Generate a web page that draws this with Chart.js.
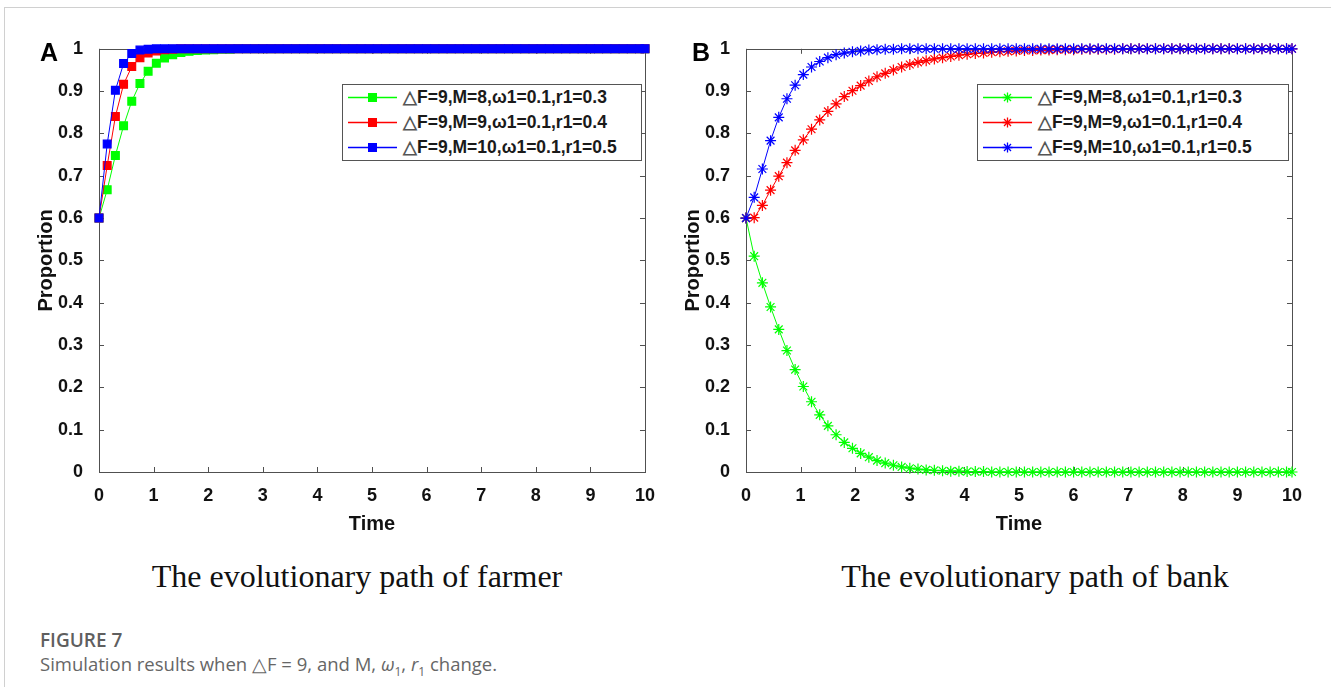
<!DOCTYPE html>
<html>
<head>
<meta charset="utf-8">
<script src="https://cdn.jsdelivr.net/npm/chart.js@4/dist/chart.umd.min.js"></script>
<style>
  body { margin:0; background:#fff; width:1331px; height:687px; position:relative; overflow:hidden; font-family:"Liberation Sans", Arial, sans-serif; }
  .frame { position:absolute; left:4px; top:7px; right:0; bottom:0; border-left:1px solid #d0d0d0; border-top:1px solid #d0d0d0; }
  .panel { position:absolute; top:30px; width:630px; height:510px; }
  .letter { position:absolute; font-weight:bold; font-size:25px; color:#000; }
  .legend { position:absolute; background:#fff; border:1px solid #555; padding:0; }
  .legend div { height:25px; display:flex; align-items:center; font-weight:bold; font-size:17.5px; color:#1a1a1a; white-space:nowrap; }
  .legend svg { margin:0 6px 0 5px; }
  .tri { color:#555; }
  .caption { position:absolute; font-family:"Liberation Serif", "Times New Roman", serif; font-size:32px; color:#111; text-align:center; width:600px; }
  .fig { position:absolute; left:40px; top:627px; font-family:"Open Sans", sans-serif; font-weight:600; font-size:19px; color:#5f5f5f; }
  .sub { position:absolute; left:40px; top:651px; font-family:"Open Sans", sans-serif; font-size:18.5px; color:#666; }
</style>
</head>
<body>
<div class="frame"></div>

<div class="panel" style="left:30px"><canvas id="farmer"></canvas></div>
<div class="panel" style="left:677px"><canvas id="bank"></canvas></div>

<div class="letter" style="left:40px; top:38px">A</div>
<div class="letter" style="left:692px; top:38px">B</div>

<div class="legend" id="legA" style="left:342px; top:84px; width:298px"></div>
<div class="legend" id="legB" style="left:977px; top:84px; width:310px"></div>

<div class="caption" style="left:57px; top:558px">The evolutionary path of farmer</div>
<div class="caption" style="left:735px; top:558px">The evolutionary path of bank</div>

<div class="fig">FIGURE 7</div>
<div class="sub">Simulation results when △F = 9, and M, <i>ω</i><sub style="font-size:12px">1</sub>, <i>r</i><sub style="font-size:12px">1</sub> change.</div>

<script>
// time grid of the simulation (step 0.15)
var timeSteps = [0,0.15,0.3,0.45,0.6,0.75,0.9,1.05,1.2,1.35,1.5,1.65,1.8,1.95,2.1,2.25,2.4,2.55,2.7,2.85,
  3,3.15,3.3,3.45,3.6,3.75,3.9,4.05,4.2,4.35,4.5,4.65,4.8,4.95,5.1,5.25,5.4,5.55,5.7,5.85,
  6,6.15,6.3,6.45,6.6,6.75,6.9,7.05,7.2,7.35,7.5,7.65,7.8,7.95,8.1,8.25,8.4,8.55,8.7,8.85,
  9,9.15,9.3,9.45,9.6,9.75,9.9,10];

var seriesLabels = ["F=9,M=8,ω1=0.1,r1=0.3", "F=9,M=9,ω1=0.1,r1=0.4", "F=9,M=10,ω1=0.1,r1=0.5"];
var seriesColors = ['#00ff00', '#ff0000', '#0000ff'];

// panel A - farmer
var farmerM8 = [0.6,0.667,0.748,0.818,0.876,0.918,0.947,0.966,0.978,0.986,0.991,0.994,0.996,0.997,0.998,0.999,0.999,
  1,1,1,1,1,1,1,1,1,1,1,1,1,1,1,1,1,1,1,1,1,1,1,1,1,1,1,1,1,1,1,1,1,1,1,1,1,1,1,1,1,1,1,1,1,1,1,1,1,1,1,1];
var farmerM9 = [0.6,0.724,0.84,0.916,0.958,0.979,0.99,0.995,0.998,0.999,
  1,1,1,1,1,1,1,1,1,1,1,1,1,1,1,1,1,1,1,1,1,1,1,1,1,1,1,1,1,1,1,1,1,1,1,1,1,1,1,1,1,1,1,1,1,1,1,1,1,1,1,1,1,1,1,1,1,1];
var farmerM10 = [0.6,0.775,0.902,0.965,0.989,0.997,0.999,
  1,1,1,1,1,1,1,1,1,1,1,1,1,1,1,1,1,1,1,1,1,1,1,1,1,1,1,1,1,1,1,1,1,1,1,1,1,1,1,1,1,1,1,1,1,1,1,1,1,1,1,1,1,1,1,1,1,1,1,1,1,1];

// panel B - bank
var bankM8 = [0.6,0.51,0.447,0.39,0.337,0.287,0.242,0.202,0.166,0.135,0.109,0.088,0.07,0.056,0.044,0.035,0.027,0.021,0.016,0.012,
  0.009,0.007,0.005,0.004,0.003,0.002,0.002,0.001,0.001,0.001,
  0,0,0,0,0,0,0,0,0,0,0,0,0,0,0,0,0,0,0,0,0,0,0,0,0,0,0,0,0,0,0,0,0,0,0,0,0,0];
var bankM9 = [0.6,0.601,0.63,0.666,0.699,0.731,0.76,0.785,0.81,0.832,0.852,0.87,0.887,0.901,0.913,0.924,0.934,0.942,0.95,0.957,
  0.963,0.968,0.972,0.976,0.979,0.982,0.985,0.987,0.989,0.99,0.992,0.993,0.994,0.995,0.996,0.996,0.997,0.997,0.998,0.998,
  0.998,0.999,0.999,0.999,0.999,0.999,1,1,1,1,1,1,1,1,1,1,1,1,1,1,1,1,1,1,1,1,1,1];
var bankM10 = [0.6,0.649,0.716,0.783,0.838,0.882,0.914,0.939,0.957,0.97,0.979,0.986,0.99,0.993,0.995,0.997,0.998,0.999,0.999,
  1,1,1,1,1,1,1,1,1,1,1,1,1,1,1,1,1,1,1,1,1,1,1,1,1,1,1,1,1,1,1,1,1,1,1,1,1,1,1,1,1,1,1,1,1,1,1,1,1,1,1,1,1];

var axisFont = { family: '"Liberation Sans", Arial, sans-serif', weight: 'bold' };

// matlab style box with inward ticks
var boxTicks = {
  id: 'boxTicks',
  beforeDatasetsDraw: function(chart) {
    var ctx = chart.ctx, a = chart.chartArea, x = chart.scales.x, y = chart.scales.y;
    ctx.save();
    ctx.strokeStyle = '#505050';
    ctx.lineWidth = 1;
    ctx.strokeRect(Math.round(a.left) + 0.5, Math.round(a.top) + 0.5, Math.round(a.right - a.left), Math.round(a.bottom - a.top));
    ctx.beginPath();
    x.ticks.forEach(function(t) {
      var px = Math.round(x.getPixelForValue(t.value)) + 0.5;
      ctx.moveTo(px, a.bottom); ctx.lineTo(px, a.bottom - 5);
      ctx.moveTo(px, a.top); ctx.lineTo(px, a.top + 5);
    });
    y.ticks.forEach(function(t) {
      var py = Math.round(y.getPixelForValue(t.value)) + 0.5;
      ctx.moveTo(a.left, py); ctx.lineTo(a.left + 5, py);
      ctx.moveTo(a.right, py); ctx.lineTo(a.right - 5, py);
    });
    ctx.stroke();
    ctx.restore();
  }
};

function makeChart(id, series, marker) {
  var datasets = series.map(function(vals, i) {
    return {
      label: seriesLabels[i],
      data: timeSteps.map(function(t, k) { return { x: t, y: vals[k] }; }),
      borderColor: seriesColors[i],
      backgroundColor: seriesColors[i],
      borderWidth: 1,
      pointStyle: marker,
      pointRadius: 5.5,
      pointBorderWidth: 1.2,
      pointBorderColor: seriesColors[i],
      pointBackgroundColor: seriesColors[i],
      tension: 0,
      clip: false,
      order: 3 - i   // blue ends up on top
    };
  });
  return new Chart(document.getElementById(id), {
    type: 'line',
    data: { datasets: datasets },
    options: {
      responsive: true,
      maintainAspectRatio: false,
      animation: false,
      layout: { padding: { left: 0, right: 15, top: 17, bottom: 0 } },
      plugins: { legend: { display: false }, tooltip: { enabled: false } },
      scales: {
        x: {
          type: 'linear', min: 0, max: 10,
          grid: { display: false },
          border: { display: false },
          ticks: { stepSize: 1, color: '#111', font: Object.assign({ size: 18 }, axisFont), padding: 5 },
          title: { display: true, text: 'Time', color: '#111', font: Object.assign({ size: 20 }, axisFont), padding: { top: 2 } },
          afterFit: function(s) { s.height = 68; }
        },
        y: {
          min: 0, max: 1,
          grid: { display: false },
          border: { display: false },
          ticks: {
            stepSize: 0.1, color: '#111', font: Object.assign({ size: 18 }, axisFont), padding: 8,
            callback: function(v) { return v == 0 || v == 1 ? String(v) : v.toFixed(1); }
          },
          title: { display: true, text: 'Proportion', color: '#111', font: Object.assign({ size: 20 }, axisFont), padding: { top: 4, bottom: 2 } },
          afterFit: function(s) { s.width = 69; }
        }
      }
    },
    plugins: [boxTicks]
  });
}

makeChart('farmer', [farmerM8, farmerM9, farmerM10], 'rect');
makeChart('bank', [bankM8, bankM9, bankM10], 'star');

// legends inside the axes
function markerSvg(color, kind) {
  var m = kind == 'rect'
    ? '<rect x="20" y="2" width="9" height="9" fill="' + color + '"/>'
    : '<path d="M24.5 1.5V11.5M19.5 6.5H29.5M21 3L28 10M28 3L21 10" stroke="' + color + '" stroke-width="1.3"/>';
  return '<svg width="49" height="13"><line x1="0" y1="6.5" x2="49" y2="6.5" stroke="' + color + '" stroke-width="1.5"/>' + m + '</svg>';
}
function fillLegend(id, kind) {
  var el = document.getElementById(id);
  seriesLabels.forEach(function(lab, i) {
    var row = document.createElement('div');
    row.innerHTML = markerSvg(seriesColors[i], kind) + '<span class="tri">△</span>' + lab;
    el.appendChild(row);
  });
}
fillLegend('legA', 'rect');
fillLegend('legB', 'star');
</script>
</body>
</html>
